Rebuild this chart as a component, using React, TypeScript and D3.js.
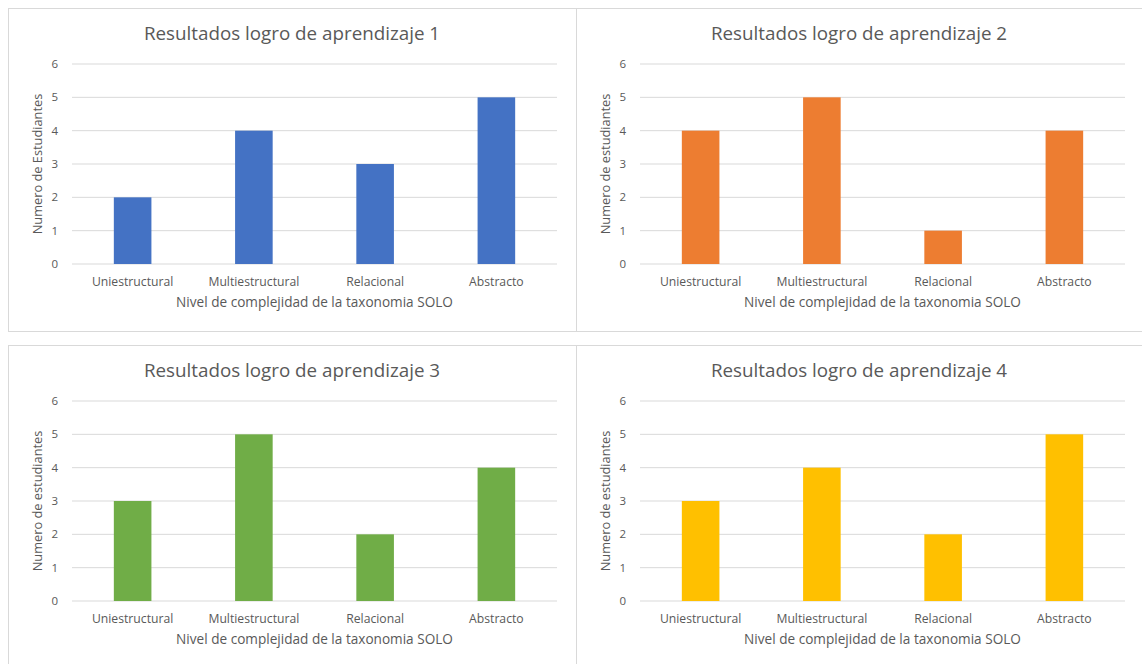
import React from "react";
import * as d3 from "d3";

const categories = ["Uniestructural", "Multiestructural", "Relacional", "Abstracto"];
const yTicks = [0, 1, 2, 3, 4, 5, 6];
const titles = [
  "Resultados logro de aprendizaje 1",
  "Resultados logro de aprendizaje 2",
  "Resultados logro de aprendizaje 3",
  "Resultados logro de aprendizaje 4",
];
const yTitles = ["Numero de Estudiantes", "Numero de estudiantes", "Numero de estudiantes", "Numero de estudiantes"];
const xTitle = "Nivel de complejidad de la taxonomia SOLO";
const series1 = [2, 4, 3, 5];
const series2 = [4, 5, 1, 4];
const series3 = [3, 5, 2, 4];
const series4 = [3, 4, 2, 5];
const seriesList = [series1, series2, series3, series4];
const colors = ["#4472C4", "#ED7D31", "#70AD47", "#FFC000"];

const FONT = "'Open Sans', 'Noto Sans', sans-serif";
const TEXT = "#595959";

function Panel({ ox, oy, w, h, idx }: { ox: number; oy: number; w: number; h: number; idx: number }) {
  const left = ox + 64;
  const right = ox + 549;
  const top = oy + 56;
  const bottom = oy + 256;
  const x = d3.scaleBand<string>().domain(categories).range([left, right]).paddingInner(0.69).paddingOuter(0.345);
  const y = d3.scaleLinear().domain([0, 6]).range([bottom, top]);
  const data = seriesList[idx];
  const cx = (left + right) / 2;
  return (
    <g>
      <rect x={ox + 0.5} y={oy + 0.5} width={w} height={h} fill="#fff" stroke="#D9D9D9" strokeWidth={1} />
      <text x={ox + w / 2} y={oy + 32} textAnchor="middle" fontFamily={FONT} fontSize={18.8} fill={TEXT}>
        {titles[idx]}
      </text>
      {yTicks.map((t) => (
        <g key={t}>
          <line x1={left} x2={right} y1={y(t)} y2={y(t)} stroke="#D9D9D9" strokeWidth={1} />
          <text x={ox + 50} y={y(t)} dy="0.35em" textAnchor="end" fontFamily={FONT} fontSize={11.5} fill={TEXT}>
            {t}
          </text>
        </g>
      ))}
      {categories.map((c, i) => (
        <rect key={c} x={x(c)} y={y(data[i])} width={x.bandwidth()} height={y(0) - y(data[i])} fill={colors[idx]} />
      ))}
      {categories.map((c) => (
        <text key={c} x={(x(c) as number) + x.bandwidth() / 2} y={bottom + 22} textAnchor="middle" fontFamily={FONT} fontSize={12.2} fill={TEXT}>
          {c}
        </text>
      ))}
      <text x={cx} y={bottom + 43} textAnchor="middle" fontFamily={FONT} fontSize={13.6} fill={TEXT}>
        {xTitle}
      </text>
      <text
        transform={`translate(${ox + 30},${(top + bottom) / 2}) rotate(-90)`}
        textAnchor="middle"
        dy="0.35em"
        fontFamily={FONT}
        fontSize={12.8}
        fill={TEXT}
      >
        {yTitles[idx]}
      </text>
    </g>
  );
}

export default function App() {
  const panels = [
    { ox: 8, oy: 8, w: 568, h: 323 },
    { ox: 576, oy: 8, w: 566, h: 323 },
    { ox: 8, oy: 345, w: 568, h: 323 },
    { ox: 576, oy: 345, w: 566, h: 323 },
  ];
  return (
    <svg width={1142} height={664} style={{ position: "absolute", left: 0, top: 0, display: "block", background: "#fff" }}>
      <rect width={1142} height={664} fill="#fff" />
      {panels.map((p, i) => (
        <Panel key={i} {...p} idx={i} />
      ))}
    </svg>
  );
}
